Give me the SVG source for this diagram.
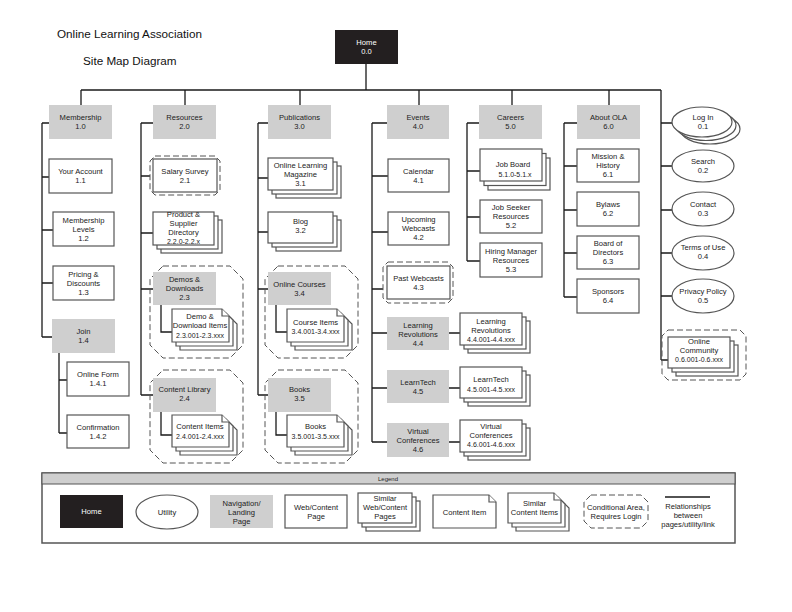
<svg xmlns="http://www.w3.org/2000/svg" width="792" height="612" viewBox="0 0 792 612">
<style>
.ln{stroke:#1a1a1a;stroke-width:1.3;fill:none}
.bx{fill:#fff;stroke:#555;stroke-width:1.2}
.nav{fill:#cfcfcf;stroke:none}
.dk{fill:#231f20;stroke:none}
.dash{fill:none;stroke:#555;stroke-width:1;stroke-dasharray:6 3}
.t{font-family:"Liberation Sans",Arial,sans-serif;font-size:7.6px;fill:#222;text-anchor:middle}
.c{font-size:7px}
.w{fill:#fff}
.ti{font-family:"Liberation Sans",Arial,sans-serif;font-size:11.7px;fill:#111}
</style>
<rect width="792" height="612" fill="#fff"/>
<text class="ti" x="57" y="38">Online Learning Association</text>
<text class="ti" x="83" y="65">Site Map Diagram</text>

<g id="connectors">
<path class="ln" d="M366,64V90M81,90H661M81,90V105M185,90V105M300,90V105M419,90V105M512,90V105M609,90V105"/>
<path class="ln" d="M42,123V337M42,123H49M42,177H49M42,230H53M42,283H53M42,337H52M59,353V433M59,380H67M59,433H67"/>
<path class="ln" d="M141,123V395M141,123H153M141,176H150M141,233H153M141,289H153M141,395H153M161,305V332H172M161,412V435H172"/>
<path class="ln" d="M258,123V395M258,123H268M258,178H268M258,232H268M258,289H268M258,395H268M276,305V332H287M276,412V435H287"/>
<path class="ln" d="M372,123V442M372,123H387M372,176H388M372,232H388M372,289H383M372,333H387M372,388H387M372,442H387M449,333H460M449,388H460M449,442H460"/>
<path class="ln" d="M467,123V261M467,123H479M467,171H480M467,217H480M467,261H480"/>
<path class="ln" d="M564,123V297M564,123H577M564,166H577M564,210H577M564,253H577M564,297H577"/>
<path class="ln" d="M661,90V360M661,123H672M661,166H672M661,210H672M661,253H672M661,296H672M661,360H668"/>
</g>

<g id="home"><rect class="dk" x="335" y="30" width="63" height="34"/><text class="t w" x="366.5" y="45">Home<tspan x="366.5" dy="9">0.0</tspan></text></g>

<!-- Membership -->
<g id="n1-0"><rect class="nav" x="49" y="105" width="63" height="34"/><text class="t" x="80.5" y="120">Membership<tspan x="80.5" dy="9">1.0</tspan></text></g>
<g id="n1-1"><rect class="bx" x="49" y="159" width="63" height="34"/><text class="t" x="80.5" y="174">Your Account<tspan x="80.5" dy="9">1.1</tspan></text></g>
<g id="n1-2"><rect class="bx" x="53" y="212" width="61" height="34"/><text class="t" x="83.5" y="222.7">Membership<tspan x="83.5" dy="9">Levels</tspan><tspan x="83.5" dy="9">1.2</tspan></text></g>
<g id="n1-3"><rect class="bx" x="53" y="266" width="61" height="34"/><text class="t" x="83.5" y="276.7">Pricing &amp;<tspan x="83.5" dy="9">Discounts</tspan><tspan x="83.5" dy="9">1.3</tspan></text></g>
<g id="n1-4"><rect class="nav" x="52" y="319" width="63" height="34"/><text class="t" x="83.5" y="334.2">Join<tspan x="83.5" dy="9">1.4</tspan></text></g>
<g id="n1-4-1"><rect class="bx" x="67" y="362" width="62" height="34"/><text class="t" x="98" y="377.2">Online Form<tspan x="98" dy="9">1.4.1</tspan></text></g>
<g id="n1-4-2"><rect class="bx" x="67" y="415" width="62" height="33"/><text class="t" x="98" y="430">Confirmation<tspan x="98" dy="9">1.4.2</tspan></text></g>

<!-- Resources -->
<g id="n2-0"><rect class="nav" x="153" y="105" width="63" height="34"/><text class="t" x="184.5" y="120">Resources<tspan x="184.5" dy="9">2.0</tspan></text></g>
<g id="n2-1"><path class="dash" d="M155,156H215L220,161V190L215,195H155L150,190V161Z"/><rect class="bx" x="153" y="159" width="64" height="33"/><text class="t" x="185" y="173.5">Salary Survey<tspan x="185" dy="9">2.1</tspan></text></g>
<g id="n2-2"><rect class="bx" x="161" y="220" width="61" height="33"/><rect class="bx" x="157" y="216" width="61" height="33"/><rect class="bx" x="153" y="212" width="61" height="33"/><text class="t" x="183.5" y="216.7">Product &amp;<tspan x="183.5" dy="9">Supplier</tspan><tspan x="183.5" dy="9">Directory</tspan><tspan class="c" x="183.5" dy="9">2.2.0-2.2.x</tspan></text></g>
<g id="n2-3"><path class="dash" d="M163,266H230L243,279V345L230,358H163L150,345V279Z"/><rect class="nav" x="153" y="272" width="63" height="33"/><text class="t" x="184.5" y="282">Demos &amp;<tspan x="184.5" dy="9">Downloads</tspan><tspan x="184.5" dy="9">2.3</tspan></text></g>
<g id="n2-3-x"><path class="bx" d="M180,317H230L237,324V350H180Z"/><path class="bx" d="M176,313H226L233,320V346H176Z"/><path class="bx" d="M172,309H222L229,316V342H172Z"/><path class="bx" d="M222,309V316H229"/><text class="t" x="200" y="319.4">Demo &amp;<tspan x="200" dy="9">Download Items</tspan><tspan class="c" x="200" dy="9.3">2.3.001-2.3.xxx</tspan></text></g>
<g id="n2-4"><path class="dash" d="M163,370H230L243,383V450L230,463H163L150,450V383Z"/><rect class="nav" x="153" y="378" width="63" height="34"/><text class="t" x="184.5" y="392">Content Library<tspan x="184.5" dy="9">2.4</tspan></text></g>
<g id="n2-4-x"><path class="bx" d="M180,423H230L237,430V455H180Z"/><path class="bx" d="M176,419H226L233,426V451H176Z"/><path class="bx" d="M172,415H222L229,422V447H172Z"/><path class="bx" d="M222,415V422H229"/><text class="t" x="200" y="429.4">Content Items<tspan class="c" x="200" dy="9.3">2.4.001-2.4.xxx</tspan></text></g>

<!-- Publications -->
<g id="n3-0"><rect class="nav" x="268" y="105" width="63" height="34"/><text class="t" x="299.5" y="120">Publications<tspan x="299.5" dy="9">3.0</tspan></text></g>
<g id="n3-1"><rect class="bx" x="276" y="166" width="65" height="32"/><rect class="bx" x="272" y="162" width="65" height="32"/><rect class="bx" x="268" y="158" width="65" height="32"/><text class="t" x="300.5" y="168.4">Online Learning<tspan x="300.5" dy="9">Magazine</tspan><tspan x="300.5" dy="9">3.1</tspan></text></g>
<g id="n3-2"><rect class="bx" x="276" y="220" width="65" height="31"/><rect class="bx" x="272" y="216" width="65" height="31"/><rect class="bx" x="268" y="212" width="65" height="31"/><text class="t" x="300.5" y="224.4">Blog<tspan x="300.5" dy="9">3.2</tspan></text></g>
<g id="n3-4"><path class="dash" d="M278,266H345L358,279V345L345,358H278L265,345V279Z"/><rect class="nav" x="268" y="272" width="63" height="33"/><text class="t" x="299.5" y="286.7">Online Courses<tspan x="299.5" dy="9">3.4</tspan></text></g>
<g id="n3-4-x"><path class="bx" d="M295,317H345L352,324V350H295Z"/><path class="bx" d="M291,313H341L348,320V346H291Z"/><path class="bx" d="M287,309H337L344,316V342H287Z"/><path class="bx" d="M337,309V316H344"/><text class="t" x="315.5" y="325">Course Items<tspan class="c" x="315.5" dy="9.3">3.4.001-3.4.xxx</tspan></text></g>
<g id="n3-5"><path class="dash" d="M278,370H345L358,383V450L345,463H278L265,450V383Z"/><rect class="nav" x="268" y="378" width="63" height="34"/><text class="t" x="299.5" y="392">Books<tspan x="299.5" dy="9">3.5</tspan></text></g>
<g id="n3-5-x"><path class="bx" d="M295,423H345L352,430V455H295Z"/><path class="bx" d="M291,419H341L348,426V451H291Z"/><path class="bx" d="M287,415H337L344,422V447H287Z"/><path class="bx" d="M337,415V422H344"/><text class="t" x="315.5" y="429.4">Books<tspan class="c" x="315.5" dy="9.3">3.5.001-3.5.xxx</tspan></text></g>

<!-- Events -->
<g id="n4-0"><rect class="nav" x="387" y="105" width="62" height="34"/><text class="t" x="418" y="120">Events<tspan x="418" dy="9">4.0</tspan></text></g>
<g id="n4-1"><rect class="bx" x="388" y="159" width="61" height="33"/><text class="t" x="418.5" y="173.7">Calendar<tspan x="418.5" dy="9">4.1</tspan></text></g>
<g id="n4-2"><rect class="bx" x="388" y="212" width="61" height="33"/><text class="t" x="418.5" y="222.2">Upcoming<tspan x="418.5" dy="9">Webcasts</tspan><tspan x="418.5" dy="9">4.2</tspan></text></g>
<g id="n4-3"><path class="dash" d="M388,262H448L453,267V298L448,303H388L383,298V267Z"/><rect class="bx" x="387" y="266" width="63" height="33"/><text class="t" x="418.5" y="280.5">Past Webcasts<tspan x="418.5" dy="9">4.3</tspan></text></g>
<g id="n4-4"><rect class="nav" x="387" y="317" width="62" height="33"/><text class="t" x="418" y="327.7">Learning<tspan x="418" dy="9">Revolutions</tspan><tspan x="418" dy="9">4.4</tspan></text></g>
<g id="n4-4-x"><rect class="bx" x="468" y="321" width="62" height="32"/><rect class="bx" x="464" y="317" width="62" height="32"/><rect class="bx" x="460" y="313" width="62" height="32"/><text class="t" x="491" y="324.4">Learning<tspan x="491" dy="9">Revolutions</tspan><tspan class="c" x="491" dy="9">4.4.001-4.4.xxx</tspan></text></g>
<g id="n4-5"><rect class="nav" x="387" y="370" width="62" height="33"/><text class="t" x="418" y="385.4">LearnTech<tspan x="418" dy="9">4.5</tspan></text></g>
<g id="n4-5-x"><rect class="bx" x="468" y="375" width="62" height="31"/><rect class="bx" x="464" y="371" width="62" height="31"/><rect class="bx" x="460" y="367" width="62" height="31"/><text class="t" x="491" y="382">LearnTech<tspan class="c" x="491" dy="9.5">4.5.001-4.5.xxx</tspan></text></g>
<g id="n4-6"><rect class="nav" x="387" y="423" width="62" height="34"/><text class="t" x="418" y="433.7">Virtual<tspan x="418" dy="9">Conferences</tspan><tspan x="418" dy="9">4.6</tspan></text></g>
<g id="n4-6-x"><rect class="bx" x="468" y="428" width="62" height="32"/><rect class="bx" x="464" y="424" width="62" height="32"/><rect class="bx" x="460" y="420" width="62" height="32"/><text class="t" x="491" y="429.4">Virtual<tspan x="491" dy="9">Conferences</tspan><tspan class="c" x="491" dy="9">4.6.001-4.6.xxx</tspan></text></g>

<!-- Careers -->
<g id="n5-0"><rect class="nav" x="479" y="105" width="63" height="34"/><text class="t" x="510.5" y="120">Careers<tspan x="510.5" dy="9">5.0</tspan></text></g>
<g id="n5-1"><rect class="bx" x="488" y="158" width="62" height="32"/><rect class="bx" x="484" y="153.5" width="62" height="32"/><rect class="bx" x="480" y="149" width="62" height="32"/><text class="t" x="513" y="167">Job Board<tspan class="c" x="515" dy="9.5">5.1.0-5.1.x</tspan></text></g>
<g id="n5-2"><rect class="bx" x="480" y="200" width="62" height="33"/><text class="t" x="511" y="210.2">Job Seeker<tspan x="511" dy="9">Resources</tspan><tspan x="511" dy="9">5.2</tspan></text></g>
<g id="n5-3"><rect class="bx" x="480" y="243" width="62" height="34"/><text class="t" x="511" y="253.6">Hiring Manager<tspan x="511" dy="9">Resources</tspan><tspan x="511" dy="9">5.3</tspan></text></g>

<!-- About -->
<g id="n6-0"><rect class="nav" x="577" y="105" width="63" height="34"/><text class="t" x="608.5" y="120">About OLA<tspan x="608.5" dy="9">6.0</tspan></text></g>
<g id="n6-1"><rect class="bx" x="577" y="149" width="62" height="33"/><text class="t" x="608" y="159.4">Mission &amp;<tspan x="608" dy="9">History</tspan><tspan x="608" dy="9">6.1</tspan></text></g>
<g id="n6-2"><rect class="bx" x="577" y="192" width="62" height="34"/><text class="t" x="608" y="207">Bylaws<tspan x="608" dy="9">6.2</tspan></text></g>
<g id="n6-3"><rect class="bx" x="577" y="236" width="62" height="33"/><text class="t" x="608" y="246">Board of<tspan x="608" dy="9">Directors</tspan><tspan x="608" dy="9">6.3</tspan></text></g>
<g id="n6-4"><rect class="bx" x="577" y="279" width="62" height="34"/><text class="t" x="608" y="294.2">Sponsors<tspan x="608" dy="9">6.4</tspan></text></g>

<!-- Utility -->
<g id="u0-1"><ellipse class="bx" cx="710" cy="129" rx="30" ry="15"/><ellipse class="bx" cx="706" cy="125.5" rx="30" ry="15"/><ellipse class="bx" cx="702" cy="122" rx="30" ry="15"/><text class="t" x="703" y="120.4">Log In<tspan x="703" dy="9">0.1</tspan></text></g>
<g id="u0-2"><ellipse class="bx" cx="703" cy="166" rx="31" ry="16"/><text class="t" x="703" y="163.7">Search<tspan x="703" dy="9">0.2</tspan></text></g>
<g id="u0-3"><ellipse class="bx" cx="703" cy="209" rx="31" ry="17"/><text class="t" x="703" y="207">Contact<tspan x="703" dy="9">0.3</tspan></text></g>
<g id="u0-4"><ellipse class="bx" cx="703" cy="253" rx="31" ry="17"/><text class="t" x="703" y="250.4">Terms of Use<tspan x="703" dy="9">0.4</tspan></text></g>
<g id="u0-5"><ellipse class="bx" cx="703" cy="296" rx="31" ry="17"/><text class="t" x="703" y="293.7">Privacy Policy<tspan x="703" dy="9">0.5</tspan></text></g>
<g id="u0-6"><path class="dash" d="M668,330H740L746,336V374L740,380H668L662,374V336Z"/><rect class="bx" x="676" y="345" width="62" height="31"/><rect class="bx" x="672" y="341" width="62" height="31"/><rect class="bx" x="668" y="337" width="62" height="31"/><text class="t" x="699" y="343.7">Online<tspan x="699" dy="9">Community</tspan><tspan class="c" x="699" dy="9.3">0.6.001-0.6.xxx</tspan></text></g>

<!-- Legend -->
<g id="legend">
<rect x="42" y="473" width="693" height="70" fill="#fff" stroke="#555" stroke-width="1.5"/>
<rect x="42" y="473" width="693" height="11" fill="#cfcfcf" stroke="#555" stroke-width="1"/>
<text class="t" x="388" y="481" style="font-size:6px">Legend</text>
<rect class="dk" x="60" y="495" width="63" height="33"/><text class="t w" x="91.5" y="514">Home</text>
<ellipse class="bx" cx="167" cy="512" rx="31" ry="17"/><text class="t" x="167" y="514.5">Utility</text>
<rect class="nav" x="210" y="495" width="63" height="33"/><text class="t" x="241.5" y="506">Navigation/<tspan x="241.5" dy="9">Landing</tspan><tspan x="241.5" dy="9">Page</tspan></text>
<rect class="bx" x="285" y="495" width="62" height="33"/><text class="t" x="316" y="510">Web/Content<tspan x="316" dy="9">Page</tspan></text>
<rect class="bx" x="366" y="501" width="54" height="30"/><rect class="bx" x="362" y="497" width="54" height="30"/><rect class="bx" x="358" y="493" width="54" height="30"/><text class="t" x="385" y="501">Similar<tspan x="385" dy="9">Web/Content</tspan><tspan x="385" dy="9">Pages</tspan></text>
<path class="bx" d="M433,495H489L496,502V528H433Z"/><path class="bx" d="M489,495V502H496"/><text class="t" x="464.5" y="514.5">Content Item</text>
<path class="bx" d="M516,501H562L569,508V531H516Z"/><path class="bx" d="M512,497H558L565,504V527H512Z"/><path class="bx" d="M508,493H554L561,500V523H508Z"/><path class="bx" d="M554,493V500H561"/><text class="t" x="534.5" y="506">Similar<tspan x="534.5" dy="9">Content Items</tspan></text>
<path class="dash" d="M591,495H641L648,502V521L641,528H591L584,521V502Z"/><text class="t" x="616" y="510">Conditional Area,<tspan x="616" dy="9">Requires Login</tspan></text>
<path class="ln" d="M665,497H710"/><text class="t" x="688" y="509">Relationships<tspan x="688" dy="9">between</tspan><tspan x="688" dy="9">pages/utility/link</tspan></text>
</g>
</svg>
